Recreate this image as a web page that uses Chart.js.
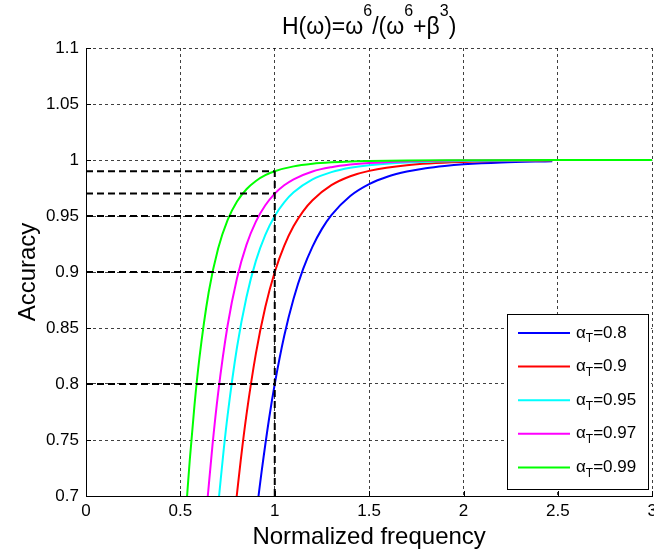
<!DOCTYPE html>
<html>
<head>
<meta charset="utf-8">
<script src="https://cdn.jsdelivr.net/npm/chart.js@4.4.1/dist/chart.umd.min.js"></script>
<style>
  html, body { margin: 0; padding: 0; background: #fff; overflow: hidden; }
  #wrap { width: 662px; height: 554px; }
</style>
</head>
<body>
<div id="wrap"><canvas id="accChart" width="662" height="554"></canvas></div>
<script>
// valores
const alphaT = ['0.8', '0.9', '0.95', '0.97', '0.99'];

const freq08 = [0.914, 0.93, 0.97, 1.0, 1.05, 1.1, 1.15, 1.2, 1.25, 1.3, 1.4, 1.5, 1.6, 1.7, 1.8, 1.9, 2.0, 2.2, 2.47];
const acc08  = [0.7, 0.7213, 0.7692, 0.8, 0.8428, 0.8763, 0.9025, 0.9227, 0.9385, 0.9508, 0.9679, 0.9785, 0.9853, 0.9897, 0.9927, 0.9947, 0.9961, 0.9978, 0.9989];

const freq09 = [0.7985, 0.82, 0.85, 0.9, 0.95, 1.0, 1.05, 1.1, 1.15, 1.2, 1.3, 1.4, 1.5, 1.7, 2.0, 2.47];
const acc09  = [0.7, 0.7323, 0.7724, 0.8271, 0.8687, 0.9, 0.9234, 0.941, 0.9542, 0.9641, 0.9775, 0.9855, 0.9903, 0.9954, 0.9983, 0.9995];

const freq095 = [0.705, 0.73, 0.75, 0.8, 0.85, 0.9, 0.95, 1.0, 1.05, 1.1, 1.2, 1.3, 1.4, 1.5, 1.7, 2.0, 2.47];
const acc095  = [0.7, 0.742, 0.7718, 0.8328, 0.8775, 0.9099, 0.9332, 0.95, 0.9622, 0.9711, 0.9827, 0.9892, 0.9931, 0.9954, 0.9978, 0.9992, 0.9998];

const freq097 = [0.6453, 0.67, 0.7, 0.75, 0.8, 0.85, 0.9, 0.95, 1.0, 1.05, 1.1, 1.2, 1.3, 1.4, 1.5, 1.7, 2.0, 2.47];
const acc097  = [0.7, 0.7452, 0.7918, 0.852, 0.8945, 0.9242, 0.945, 0.9596, 0.97, 0.9774, 0.9828, 0.9898, 0.9936, 0.9959, 0.9973, 0.9987, 0.9995, 0.9999];

const freq099 = [0.5355, 0.55, 0.575, 0.6, 0.65, 0.7, 0.75, 0.8, 0.85, 0.9, 0.95, 1.0, 1.1, 1.2, 1.3, 1.4, 1.5, 1.7, 2.0, 2.5, 3.0];
const acc099  = [0.7, 0.7326, 0.7816, 0.822, 0.8819, 0.9209, 0.9463, 0.9629, 0.9739, 0.9813, 0.9864, 0.99, 0.9943, 0.9966, 0.9979, 0.9987, 0.9991, 0.9996, 0.9998, 1.0, 1.0];

// lineas de referencia (discontinuas negras)
const refLevels = [0.8, 0.9, 0.95, 0.97, 0.99];
const refFreq = 1;

const xTickLabels = ['0', '0.5', '1', '1.5', '2', '2.5', '3'];
const yTickLabels = ['0.7', '0.75', '0.8', '0.85', '0.9', '0.95', '1', '1.05', '1.1'];

// titulo: [texto, es superindice]
const titleParts = [['H(ω)=ω', false], ['6', true], ['/(ω', false], ['6', true], ['+β', false], ['3', true], [')', false]];

const curveColors = ['#0000ff', '#ff0000', '#00ffff', '#ff00ff', '#00ff00'];
const FONT = '"Liberation Sans", Arial, sans-serif';

const series = [[freq08, acc08], [freq09, acc09], [freq095, acc095], [freq097, acc097], [freq099, acc099]];

const datasets = series.map((s, i) => ({
    label: 'αT=' + alphaT[i],
    data: s[0].map((x, k) => ({ x: x, y: s[1][k] })),
    borderColor: curveColors[i],
    borderWidth: 2,
    pointRadius: 0,
    fill: false,
    cubicInterpolationMode: 'monotone',
    order: series.length - i,
    isCurve: true
}));

refLevels.forEach(lv => {
    datasets.push({
        label: 'ref',
        data: [{ x: 0, y: lv }, { x: refFreq, y: lv }],
        borderColor: '#000', borderWidth: 2, borderDash: [7, 4],
        pointRadius: 0, fill: false, order: 0
    });
});
datasets.push({
    label: 'ref',
    data: [{ x: refFreq, y: Number(yTickLabels[0]) }, { x: refFreq, y: refLevels[refLevels.length - 1] }],
    borderColor: '#000', borderWidth: 2, borderDash: [7, 4],
    pointRadius: 0, fill: false, order: 0
});

function labelFor(list, v) {
    const hit = list.find(t => Math.abs(Number(t) - v) < 1e-6);
    return hit === undefined ? '' : hit;
}

// titulo con superindices
const titleRich = {
    id: 'titleRich',
    afterDraw(chart) {
        const { ctx, chartArea } = chart;
        const mainFont = '23px ' + FONT, supFont = '16px ' + FONT;
        ctx.save();
        ctx.fillStyle = '#000';
        ctx.textAlign = 'left';
        ctx.textBaseline = 'alphabetic';
        let total = 0;
        titleParts.forEach(p => {
            ctx.font = p[1] ? supFont : mainFont;
            total += ctx.measureText(p[0]).width;
        });
        let tx = (chartArea.left + chartArea.right) / 2 - total / 2;
        titleParts.forEach(p => {
            ctx.font = p[1] ? supFont : mainFont;
            ctx.fillText(p[0], tx, p[1] ? 16 : 34);
            tx += ctx.measureText(p[0]).width;
        });
        ctx.restore();
    }
};

// ticks hacia adentro, estilo matlab
const innerTicks = {
    id: 'innerTicks',
    afterDraw(chart) {
        const { ctx, chartArea, scales } = chart;
        ctx.save();
        ctx.strokeStyle = '#000';
        ctx.lineWidth = 1;
        ctx.beginPath();
        scales.y.ticks.forEach(t => {
            const py = Math.round(scales.y.getPixelForValue(t.value)) + 0.5;
            ctx.moveTo(chartArea.left, py);
            ctx.lineTo(chartArea.left + 5, py);
        });
        scales.x.ticks.forEach(t => {
            const px = Math.round(scales.x.getPixelForValue(t.value)) + 0.5;
            ctx.moveTo(px, chartArea.bottom);
            ctx.lineTo(px, chartArea.bottom - 5);
        });
        ctx.stroke();
        ctx.restore();
    }
};

// leyenda con subindice
const legendBox = {
    id: 'legendBox',
    afterDraw(chart) {
        const ctx = chart.ctx;
        const items = chart.data.datasets.filter(d => d.isCurve);
        const x0 = 507.5, y0 = 314.5, w = 141, h = 175;
        ctx.save();
        ctx.fillStyle = '#fff';
        ctx.fillRect(x0, y0, w, h);
        ctx.strokeStyle = '#000';
        ctx.lineWidth = 1;
        ctx.strokeRect(x0, y0, w, h);
        items.forEach((d, i) => {
            const y = 333 + i * 33.6;
            ctx.strokeStyle = d.borderColor;
            ctx.lineWidth = 2;
            ctx.beginPath();
            ctx.moveTo(518, y);
            ctx.lineTo(570, y);
            ctx.stroke();
            ctx.fillStyle = '#000';
            ctx.textBaseline = 'middle';
            ctx.textAlign = 'left';
            let tx = 576;
            ctx.font = '17px ' + FONT;
            ctx.fillText('α', tx, y);
            tx += ctx.measureText('α').width;
            ctx.font = '12px ' + FONT;
            ctx.fillText('T', tx, y + 6);
            tx += ctx.measureText('T').width;
            ctx.font = '17px ' + FONT;
            ctx.fillText('=' + alphaT[i], tx, y);
        });
        ctx.restore();
    }
};

const ctx = document.getElementById('accChart').getContext('2d');
const accChart = new Chart(ctx, {
    type: 'line',
    data: { datasets: datasets },
    options: {
        responsive: false,
        animation: false,
        devicePixelRatio: 1,
        layout: { padding: { top: 48, left: 0, right: 0, bottom: 0 } },
        plugins: {
            legend: { display: false },
            tooltip: { enabled: false },
            title: { display: false }
        },
        scales: {
            x: {
                type: 'linear',
                min: 0, max: 3,
                afterFit(scale) { scale.height = 58; },
                ticks: {
                    stepSize: 0.5,
                    color: '#000',
                    padding: 5,
                    maxRotation: 0,
                    font: { family: FONT, size: 17 },
                    callback: v => labelFor(xTickLabels, v)
                },
                grid: { color: 'rgba(0,0,0,0.75)', lineWidth: 1, drawTicks: false },
                border: { display: true, color: '#000', width: 1, dash: [3, 3] },
                title: {
                    display: true,
                    text: 'Normalized frequency',
                    color: '#000',
                    font: { family: FONT, size: 24 },
                    padding: { top: 0, bottom: 2 }
                }
            },
            y: {
                type: 'linear',
                min: 0.7, max: 1.1,
                afterFit(scale) { scale.width = 86; },
                ticks: {
                    stepSize: 0.05,
                    color: '#000',
                    padding: 7,
                    font: { family: FONT, size: 17 },
                    callback: v => labelFor(yTickLabels, v)
                },
                grid: { color: 'rgba(0,0,0,0.75)', lineWidth: 1, drawTicks: false },
                border: { display: true, color: '#000', width: 1, dash: [3, 3] },
                title: {
                    display: true,
                    text: 'Accuracy',
                    color: '#000',
                    font: { family: FONT, size: 24 },
                    padding: { top: 14, bottom: 0 }
                }
            }
        }
    },
    plugins: [titleRich, innerTicks, legendBox]
});
</script>
</body>
</html>
